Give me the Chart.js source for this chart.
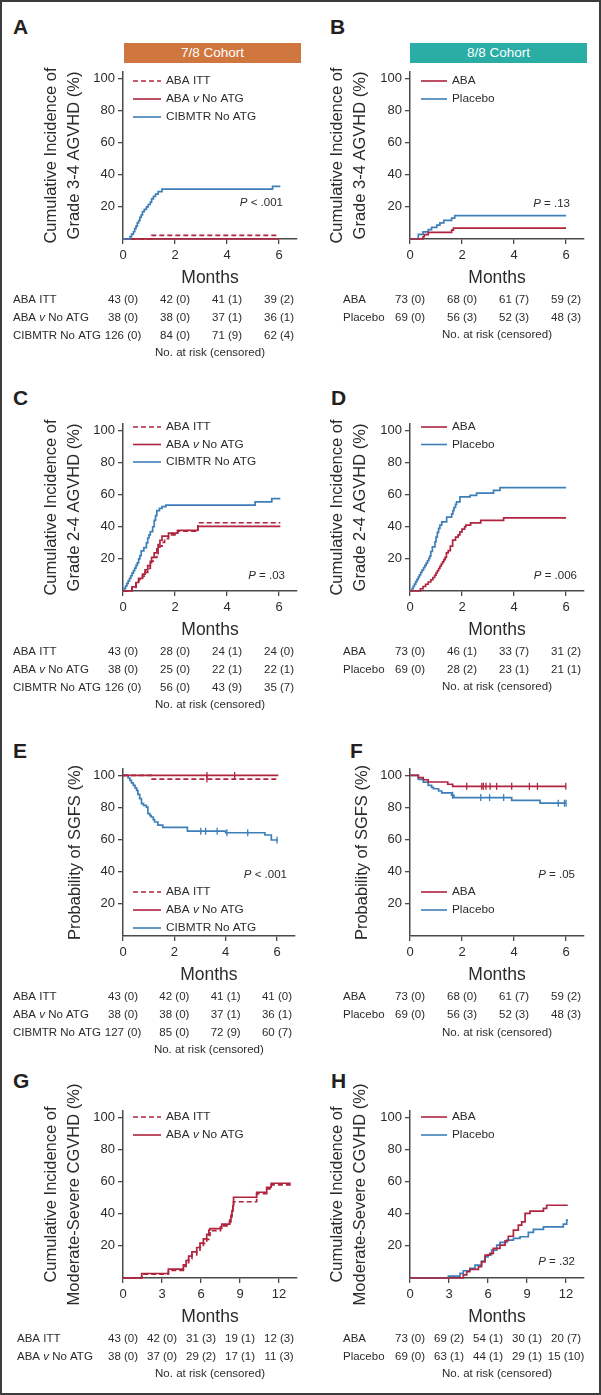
<!DOCTYPE html>
<html>
<head>
<meta charset="utf-8">
<script src="https://cdn.jsdelivr.net/npm/chart.js@4.4.1/dist/chart.umd.min.js"></script>
<style>
html, body { margin: 0; padding: 0; background: #fff; }
#fig { position: relative; width: 601px; height: 1395px; overflow: hidden; font-family: 'Liberation Sans', Arial, sans-serif; }
#frame { position: absolute; left: 0; top: 0; width: 597px; height: 1391px; border: 2px solid #3c3c3c; pointer-events: none; }
canvas { position: absolute; }
.lbl { position: absolute; font-weight: bold; font-size: 21px; line-height: 21px; color: #231f20; }
.ban { position: absolute; width: 177px; height: 20px; line-height: 20px; color: #fff; font-size: 13.5px; text-align: center; }
</style>
</head>
<body>
<div id="fig">
  <div class="lbl" style="left:13px;top:16px">A</div>
  <div class="lbl" style="left:330px;top:16px">B</div>
  <div class="lbl" style="left:13px;top:387px">C</div>
  <div class="lbl" style="left:331px;top:387px">D</div>
  <div class="lbl" style="left:13px;top:740px">E</div>
  <div class="lbl" style="left:350px;top:740px">F</div>
  <div class="lbl" style="left:13px;top:1070px">G</div>
  <div class="lbl" style="left:331px;top:1070px">H</div>
  <div class="ban" style="left:124px;top:43px;background:#d0763f">7/8 Cohort</div>
  <div class="ban" style="left:410px;top:43px;background:#29ada5">8/8 Cohort</div>
  <div id="frame"></div>
</div>
<script>
'use strict';
// tick positions (months / %)
const TICKS_6 = [0, 2, 4, 6];
const TICKS_12 = [0, 3, 6, 9, 12];
const Y_TICKS = [20, 40, 60, 80, 100];

const GROUPS_78 = ['ABA ITT', 'ABA *v* No ATG', 'CIBMTR No ATG'];
const GROUPS_88 = ['ABA', 'Placebo'];

// ── curves: [month, %] ──
// A  grade 3-4 AGVHD, 7/8
const aItt = [[0, 0], [1.1, 2.3], [6.0, 2.3]];
const aNoAtg = [[0, 0], [6.0, 0]];
const aCibmtr = [[0, 0], [0.27, 1.5], [0.33, 3], [0.4, 4.5], [0.45, 6.5], [0.5, 8], [0.55, 10], [0.6, 11.5], [0.65, 13.5], [0.7, 15], [0.75, 17], [0.82, 18.5], [0.9, 20], [0.97, 21.5], [1.05, 23], [1.1, 25], [1.17, 26.5], [1.25, 28], [1.35, 29.5], [1.5, 31], [5.75, 32.8], [6.05, 32.8]];
// B  grade 3-4 AGVHD, 8/8
const bAba = [[0, 0], [0.5, 1.4], [0.55, 2.7], [0.7, 4.1], [1.6, 5.5], [1.67, 6.8], [6.0, 6.8]];
const bPlacebo = [[0, 0], [0.32, 2.9], [0.5, 4.4], [0.7, 5.8], [0.83, 7.3], [1.03, 8.7], [1.15, 10.1], [1.3, 11.6], [1.6, 13], [1.72, 14.5], [6.0, 14.5]];
// C  grade 2-4 AGVHD, 7/8
const cItt = [[0, 0], [0.35, 2.3], [0.5, 4.7], [0.6, 7], [0.75, 9.3], [0.85, 11.6], [0.95, 14], [1.05, 16.3], [1.1, 18.6], [1.2, 21], [1.3, 23.3], [1.35, 25.6], [1.42, 28], [1.5, 30.3], [1.6, 32.6], [1.75, 35], [2.1, 37.3], [2.88, 42.5], [6.05, 42.5]];
const cNoAtg = [[0, 0], [0.35, 2.6], [0.5, 5.3], [0.6, 7.9], [0.75, 10.5], [0.85, 13.2], [0.95, 15.8], [1.05, 18.4], [1.1, 21], [1.2, 23.7], [1.3, 26.3], [1.35, 28.9], [1.42, 31.6], [1.5, 34.2], [1.75, 36], [2.1, 37.8], [2.88, 40.2], [6.05, 40.2]];
const cCibmtr = [[0, 0], [0.05, 1.6], [0.1, 3.2], [0.15, 4.8], [0.2, 6.3], [0.25, 7.9], [0.3, 9.5], [0.35, 11.1], [0.4, 12.7], [0.45, 14.3], [0.5, 15.9], [0.55, 17.5], [0.6, 20], [0.65, 22], [0.7, 25], [0.8, 27], [0.9, 30], [0.95, 33], [1.0, 35], [1.05, 37], [1.14, 40], [1.2, 44], [1.25, 47], [1.3, 50], [1.4, 51.5], [1.5, 52.5], [1.65, 53.5], [5.08, 55.5], [5.72, 57.5], [6.05, 57.5]];
// D  grade 2-4 AGVHD, 8/8
const dAba = [[0, 0], [0.4, 1.4], [0.5, 2.8], [0.6, 4.2], [0.7, 5.6], [0.8, 7], [0.88, 8.4], [0.95, 9.8], [1.0, 11.2], [1.05, 12.6], [1.1, 14], [1.15, 15.4], [1.2, 16.8], [1.25, 18.2], [1.3, 19.6], [1.35, 21], [1.4, 23.8], [1.47, 25.2], [1.55, 28], [1.64, 31.7], [1.75, 33.5], [1.85, 35], [1.92, 36.8], [2.0, 38.5], [2.1, 40], [2.15, 41], [2.33, 42.4], [2.72, 44], [3.6, 45.5], [6.0, 45.5]];
const dPlacebo = [[0, 0], [0.08, 1.4], [0.12, 2.9], [0.17, 4.3], [0.22, 5.8], [0.27, 7.2], [0.32, 8.7], [0.36, 10.1], [0.41, 11.6], [0.46, 13], [0.52, 14.5], [0.57, 15.9], [0.62, 17.4], [0.67, 18.8], [0.72, 20.3], [0.76, 21.7], [0.8, 24.6], [0.86, 27.5], [0.96, 30.6], [1.0, 33.5], [1.05, 36.5], [1.1, 39], [1.15, 41], [1.22, 43], [1.41, 46], [1.6, 48], [1.65, 50], [1.69, 52], [1.75, 54], [1.79, 55.5], [1.92, 58.6], [2.31, 59.6], [2.56, 61], [3.21, 62.7], [3.46, 64.4], [6.0, 64.4]];
// E  SGFS, 7/8
const eItt = [[0, 100], [1.1, 97.7], [6.05, 97.7]];
const eIttCens = [[3.27, 97.7]];
const eNoAtg = [[0, 100], [6.05, 100]];
const eNoAtgCens = [[3.27, 100], [4.35, 100]];
const eCibmtr = [[0, 100], [0.2, 98.4], [0.27, 96.9], [0.33, 95.3], [0.4, 93.8], [0.47, 92.2], [0.53, 90.7], [0.58, 88.2], [0.65, 85.5], [0.72, 82.4], [0.8, 81.3], [0.91, 80.3], [0.97, 76.2], [1.05, 75], [1.1, 74.1], [1.18, 72.5], [1.23, 71], [1.36, 69], [1.55, 67.6], [2.51, 65.3], [4.0, 64.3], [5.53, 62.9], [5.78, 59.8], [6.04, 59.8]];
const eCibmtrCens = [[3.03, 65.3], [3.22, 65.3], [3.67, 65.3], [4.05, 64.3], [4.86, 64.3], [6.0, 59.8]];
// F  SGFS, 8/8
const fAba = [[0, 100], [0.32, 98.6], [0.51, 97.3], [0.7, 95.9], [1.45, 94.5], [1.64, 93.2], [6.0, 93.2]];
const fAbaCens = [[2.18, 93.2], [2.76, 93.2], [2.82, 93.2], [2.92, 93.2], [3.08, 93.2], [3.33, 93.2], [3.91, 93.2], [4.59, 93.2], [4.9, 93.2], [5.99, 93.2]];
const fPlacebo = [[0, 100], [0.32, 97.5], [0.51, 95.8], [0.7, 93.8], [0.83, 92.5], [0.9, 91.7], [1.1, 90.3], [1.22, 89.1], [1.6, 87.6], [1.69, 86.2], [3.91, 84.4], [5.0, 82.7], [6.0, 82.7]];
const fPlaceboCens = [[1.64, 87.6], [2.72, 86.2], [3.06, 86.2], [3.6, 86.2], [5.7, 82.7], [5.94, 82.7], [6.0, 82.7]];
// G  moderate-severe CGVHD, 7/8
const gItt = [[0, 0], [1.44, 2.4], [3.49, 4.8], [4.64, 7.2], [4.85, 9.6], [5.05, 12], [5.3, 14.4], [5.67, 16.8], [5.92, 19.2], [6.18, 21.6], [6.44, 24.1], [6.6, 26.5], [6.69, 29.5], [7.5, 31], [7.6, 32.5], [8.2, 35], [8.3, 38], [8.38, 41], [8.45, 44], [8.5, 47.5], [10.28, 52.5], [11.05, 55.5], [11.4, 58], [12.9, 58]];
const gNoAtg = [[0, 0], [1.44, 2.8], [3.49, 5.5], [4.64, 8.2], [4.85, 10.9], [5.05, 13.6], [5.3, 16.3], [5.67, 19], [5.92, 21.7], [6.18, 24.4], [6.44, 27.2], [6.6, 29.9], [6.69, 30.8], [7.5, 32], [7.6, 33.5], [8.2, 36], [8.3, 39], [8.38, 42], [8.45, 45], [8.5, 50.3], [10.28, 53.4], [11.05, 56.5], [11.4, 59], [12.9, 59]];
// H  moderate-severe CGVHD, 8/8
const hAba = [[0, 0], [4.1, 1.9], [4.36, 3.9], [4.6, 5.4], [5.26, 7], [5.5, 10], [5.77, 14.3], [6.15, 15.3], [6.41, 18.4], [6.92, 20.5], [7.31, 23.2], [7.56, 26], [7.95, 29.8], [8.33, 32.9], [8.59, 35], [8.85, 40.2], [9.23, 41.6], [10.26, 43.3], [10.51, 45.3], [12.13, 45.3]];
const hPlacebo = [[0, 0], [2.95, 1.2], [3.85, 2.9], [4.1, 4.5], [4.6, 6], [5.0, 8], [5.5, 10.5], [5.77, 13.2], [6.0, 14.5], [6.28, 17.4], [6.67, 20.5], [6.92, 22.2], [7.44, 23.6], [7.95, 24.7], [8.46, 25.7], [9.1, 28.4], [9.49, 30.3], [10.26, 31.9], [11.79, 33.5], [12.05, 36], [12.15, 36]];

// ── no. at risk (censored) ──
const riskA = [['43 (0)', '42 (0)', '41 (1)', '39 (2)'], ['38 (0)', '38 (0)', '37 (1)', '36 (1)'], ['126 (0)', '84 (0)', '71 (9)', '62 (4)']];
const riskB = [['73 (0)', '68 (0)', '61 (7)', '59 (2)'], ['69 (0)', '56 (3)', '52 (3)', '48 (3)']];
const riskC = [['43 (0)', '28 (0)', '24 (1)', '24 (0)'], ['38 (0)', '25 (0)', '22 (1)', '22 (1)'], ['126 (0)', '56 (0)', '43 (9)', '35 (7)']];
const riskD = [['73 (0)', '46 (1)', '33 (7)', '31 (2)'], ['69 (0)', '28 (2)', '23 (1)', '21 (1)']];
const riskE = [['43 (0)', '42 (0)', '41 (1)', '41 (0)'], ['38 (0)', '38 (0)', '37 (1)', '36 (1)'], ['127 (0)', '85 (0)', '72 (9)', '60 (7)']];
const riskF = [['73 (0)', '68 (0)', '61 (7)', '59 (2)'], ['69 (0)', '56 (3)', '52 (3)', '48 (3)']];
const riskG = [['43 (0)', '42 (0)', '31 (3)', '19 (1)', '12 (3)'], ['38 (0)', '37 (0)', '29 (2)', '17 (1)', '11 (3)']];
const riskH = [['73 (0)', '69 (2)', '54 (1)', '30 (1)', '20 (7)'], ['69 (0)', '63 (1)', '44 (1)', '29 (1)', '15 (10)']];

const RED = '#b0243f';
const BLUE = '#3e7fb9';
const INK = '#2b2b2b';
const AXIS = '#4a4a4a';
const FAMILY = "'Liberation Sans', Arial, Helvetica, sans-serif";

Chart.defaults.font.family = FAMILY;
Chart.defaults.color = INK;

// text with *italic* parts
function drawRich(ctx, str, x, y, size, align) {
    const parts = str.split('*');
    const fonts = parts.map((_, i) => (i % 2 ? 'italic ' : '') + size + 'px ' + FAMILY);
    let total = 0;
    const widths = parts.map((p, i) => { ctx.font = fonts[i]; const w = ctx.measureText(p).width; total += w; return w; });
    let cx = align === 'right' ? x - total : align === 'center' ? x - total / 2 : x;
    ctx.textAlign = 'left';
    ctx.textBaseline = 'middle';
    parts.forEach((p, i) => { ctx.font = fonts[i]; ctx.fillText(p, cx, y); cx += widths[i]; });
}

const extras = {
    id: 'extras',
    afterDraw(chart, args, o) {
        const ctx = chart.ctx;
        const ox = o.left, oy = o.top;
        ctx.save();
        ctx.fillStyle = INK;
        if (o.legend) {
            const lg = o.legend;
            lg.items.forEach((it, i) => {
                const y = lg.y + i * lg.dy - oy;
                ctx.strokeStyle = it[1];
                ctx.lineWidth = 1.6;
                ctx.setLineDash(it[2] ? [5, 3] : []);
                ctx.beginPath();
                ctx.moveTo(lg.x1 - ox, y);
                ctx.lineTo(lg.x2 - ox, y);
                ctx.stroke();
                ctx.setLineDash([]);
                ctx.fillStyle = INK;
                drawRich(ctx, it[0], lg.tx - ox, y, 11.8, 'left');
            });
        }
        if (o.pval) drawRich(ctx, o.pval.text, o.pval.x - ox, o.pval.y - oy, 11.5, 'right');
        if (o.risk) {
            const r = o.risk, xs = chart.scales.x;
            r.rows.forEach((row, i) => {
                const y = r.y + i * 18 - oy;
                drawRich(ctx, r.groups[i], r.labelX - ox, y, 11.5, 'left');
                row.forEach((cell, j) => drawRich(ctx, cell, xs.getPixelForValue(r.ticks[j]), y, 11.5, 'center'));
            });
            drawRich(ctx, 'No. at risk (censored)', (xs.left + xs.right) / 2, r.foot - oy, 11.5, 'center');
        }
        ctx.restore();
    }
};

const ROWS = [
    { top: 0, h: 362, pt: 72, axis: 239 },
    { top: 362, h: 350, pt: 62, axis: 229 },
    { top: 712, h: 350, pt: 57, axis: 224 },
    { top: 1062, h: 331, pt: 49, axis: 216 },
];
const COLS = [
    { left: 0, chartLeft: 123, pr: 3, lx1: 133, lx2: 161, tx: 166 },
    { left: 300, chartLeft: 110, pr: 16, lx1: 421, lx2: 447, tx: 452 },
];

function makePanel(p) {
    const row = ROWS[p.row], col = COLS[p.col];
    const cv = document.createElement('canvas');
    cv.width = 300; cv.height = row.h;
    cv.style.left = col.left + 'px'; cv.style.top = row.top + 'px';
    cv.style.width = '300px'; cv.style.height = row.h + 'px';
    document.getElementById('fig').insertBefore(cv, document.getElementById('frame'));

    const datasets = [];
    p.series.forEach(s => {
        datasets.push({
            data: s.pts.map(q => ({ x: q[0], y: q[1] })),
            borderColor: s.color, borderWidth: 1.7, borderDash: s.dash ? [5, 3] : [],
            stepped: true, pointRadius: 0, fill: false, clip: 6,
        });
        if (s.cens) {
            datasets.push({
                data: s.cens.map(q => ({ x: q[0], y: q[1] })),
                showLine: false, pointStyle: 'line', rotation: 90, pointRadius: 3.5, clip: 6,
                borderColor: s.color, backgroundColor: s.color, pointBorderWidth: 1.3,
            });
        }
    });

    const tickFont = { size: 13 };
    new Chart(cv, {
        type: 'line',
        data: { datasets },
        plugins: [extras],
        options: {
            responsive: false, animation: false, events: [],
            layout: { padding: { left: p.pl, top: row.pt, right: col.pr, bottom: row.h - row.axis - 50 } },
            plugins: {
                legend: { display: false }, tooltip: { enabled: false },
                extras: {
                    left: col.left, top: row.top,
                    legend: { x1: col.lx1, x2: col.lx2, tx: col.tx, y: p.legendY, dy: p.legendDy || 18, items: p.legend },
                    pval: p.pval,
                    risk: { groups: p.groups, rows: p.risk, ticks: p.xTicks, labelX: p.labelX, y: p.riskY, foot: p.footY },
                },
            },
            scales: {
                x: {
                    type: 'linear', min: 0, max: p.xMax,
                    afterBuildTicks: s => { s.ticks = p.xTicks.map(v => ({ value: v })); },
                    afterFit: s => { s.height = 50; },
                    grid: { drawOnChartArea: false, drawTicks: true, tickLength: 5, color: AXIS, lineWidth: 1.3 },
                    border: { display: true, color: AXIS, width: 1.5 },
                    ticks: { color: INK, font: tickFont, padding: 4, maxRotation: 0, autoSkip: false },
                    title: { display: true, text: 'Months', color: INK, font: { size: 17.5, lineHeight: '22px' }, padding: 0 },
                },
                y: {
                    type: 'linear', min: 0, max: 104,
                    afterBuildTicks: s => { s.ticks = Y_TICKS.map(v => ({ value: v })); },
                    afterFit: s => { s.width = col.chartLeft - p.pl; },
                    grid: { drawOnChartArea: false, drawTicks: true, tickLength: 5, color: AXIS, lineWidth: 1.3 },
                    border: { display: true, color: AXIS, width: 1.5 },
                    ticks: { color: INK, font: tickFont, padding: 3 },
                    title: { display: true, text: p.yTitle, color: INK, font: { size: 16.5, lineHeight: '23px' }, padding: 0 },
                },
            },
        },
    });
}

const AGVHD34 = ['Cumulative Incidence of', 'Grade 3-4 AGVHD (%)'];
const AGVHD24 = ['Cumulative Incidence of', 'Grade 2-4 AGVHD (%)'];
const CGVHD = ['Cumulative Incidence of', 'Moderate-Severe CGVHD (%)'];
const LEG_78 = [['ABA ITT', RED, true], ['ABA *v* No ATG', RED, false], ['CIBMTR No ATG', BLUE, false]];
const LEG_88 = [['ABA', RED, false], ['Placebo', BLUE, false]];

makePanel({ row: 0, col: 0, pl: 40, yTitle: AGVHD34, xTicks: TICKS_6, xMax: 6.69,
    series: [{ pts: aCibmtr, color: BLUE }, { pts: aNoAtg, color: RED }, { pts: aItt, color: RED, dash: true }],
    legend: LEG_78, legendY: 81, pval: { text: '*P* < .001', x: 283, y: 203 },
    groups: GROUPS_78, risk: riskA, labelX: 13, riskY: 300, footY: 353 });
makePanel({ row: 0, col: 1, pl: 26, yTitle: AGVHD34, xTicks: TICKS_6, xMax: 6.69,
    series: [{ pts: bAba, color: RED }, { pts: bPlacebo, color: BLUE }],
    legend: LEG_88, legendY: 81, pval: { text: '*P* = .13', x: 570, y: 204 },
    groups: GROUPS_88, risk: riskB, labelX: 343, riskY: 300, footY: 335 });
makePanel({ row: 1, col: 0, pl: 40, yTitle: AGVHD24, xTicks: TICKS_6, xMax: 6.69,
    series: [{ pts: cItt, color: RED, dash: true }, { pts: cNoAtg, color: RED }, { pts: cCibmtr, color: BLUE }],
    legend: LEG_78, legendY: 427, legendDy: 17.5, pval: { text: '*P* = .03', x: 285, y: 576 },
    groups: GROUPS_78, risk: riskC, labelX: 13, riskY: 652, footY: 705 });
makePanel({ row: 1, col: 1, pl: 26, yTitle: AGVHD24, xTicks: TICKS_6, xMax: 6.69,
    series: [{ pts: dAba, color: RED }, { pts: dPlacebo, color: BLUE }],
    legend: LEG_88, legendY: 427, legendDy: 17.5, pval: { text: '*P* = .006', x: 577, y: 576 },
    groups: GROUPS_88, risk: riskD, labelX: 343, riskY: 652, footY: 687 });
makePanel({ row: 2, col: 0, pl: 63.5, yTitle: 'Probability of SGFS (%)', xTicks: TICKS_6, xMax: 6.69,
    series: [{ pts: eNoAtg, color: RED, cens: eNoAtgCens }, { pts: eItt, color: RED, dash: true, cens: eIttCens }, { pts: eCibmtr, color: BLUE, cens: eCibmtrCens }],
    legend: LEG_78, legendY: 892, pval: { text: '*P* < .001', x: 287, y: 875 },
    groups: GROUPS_78, risk: riskE, labelX: 13, riskY: 997, footY: 1050 });
makePanel({ row: 2, col: 1, pl: 50.5, yTitle: 'Probability of SGFS (%)', xTicks: TICKS_6, xMax: 6.69,
    series: [{ pts: fAba, color: RED, cens: fAbaCens }, { pts: fPlacebo, color: BLUE, cens: fPlaceboCens }],
    legend: LEG_88, legendY: 892, pval: { text: '*P* = .05', x: 575, y: 875 },
    groups: GROUPS_88, risk: riskF, labelX: 343, riskY: 997, footY: 1033 });
makePanel({ row: 3, col: 0, pl: 40, yTitle: CGVHD, xTicks: TICKS_12, xMax: 13.38,
    series: [{ pts: gNoAtg, color: RED }, { pts: gItt, color: RED, dash: true }],
    legend: LEG_78.slice(0, 2), legendY: 1117, pval: null,
    groups: GROUPS_78, risk: riskG, labelX: 17, riskY: 1339, footY: 1374 });
makePanel({ row: 3, col: 1, pl: 26, yTitle: CGVHD, xTicks: TICKS_12, xMax: 13.38,
    series: [{ pts: hAba, color: RED }, { pts: hPlacebo, color: BLUE }],
    legend: LEG_88, legendY: 1117, pval: { text: '*P* = .32', x: 575, y: 1262 },
    groups: GROUPS_88, risk: riskH, labelX: 343, riskY: 1339, footY: 1374 });
</script>
</body>
</html>
